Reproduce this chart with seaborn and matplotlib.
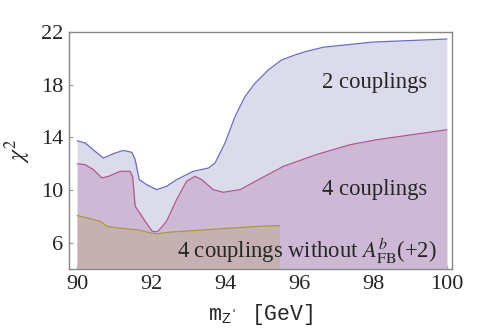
import matplotlib
matplotlib.use("Agg")
import matplotlib.pyplot as plt
import seaborn as sns
import numpy as np

# 2 couplings
x_two = [90.0, 90.22, 90.49, 90.71, 90.98, 91.25, 91.48, 91.57, 91.68, 91.88, 92.15, 92.42,
         92.69, 93.14, 93.55, 93.73, 94.0, 94.27, 94.54, 94.81, 95.17, 95.53, 95.89, 96.16,
         96.66, 98.0, 100.0]
y_two = [13.74, 13.57, 12.93, 12.43, 12.76, 13.01, 12.86, 12.30, 10.79, 10.41, 10.03, 10.28,
         10.79, 11.42, 11.67, 12.05, 13.57, 15.58, 17.1, 18.11, 19.12, 19.88, 20.26, 20.5,
         20.85, 21.24, 21.47]

# 4 couplings
x_four = [90.0, 90.22, 90.44, 90.67, 90.85, 91.16, 91.43, 91.5, 91.57, 91.66, 91.84, 92.02,
          92.11, 92.2, 92.42, 92.69, 92.96, 93.19, 93.37, 93.68, 93.95, 94.41, 94.95, 95.58,
          96.48, 97.38, 98.1, 100.0]
y_four = [12.0, 11.92, 11.55, 10.92, 11.04, 11.42, 11.42, 11.04, 8.77, 8.39, 7.63, 6.9,
          6.82, 6.9, 7.63, 9.27, 10.66, 11.04, 10.79, 10.03, 9.83, 10.03, 10.86, 11.8,
          12.7, 13.44, 13.82, 14.58]

# 4 couplings without A_FB^b
x_noafb = [90.0, 90.26, 90.62, 90.8, 91.16, 91.7, 91.97, 92.15, 92.51, 94.95, 95.47]
y_noafb = [8.06, 7.89, 7.63, 7.25, 7.1, 6.95, 6.75, 6.67, 6.8, 7.25, 7.3]

y_ticks = [6, 10, 14, 18, 22]
x_ticks = [90, 92, 94, 96, 98, 100]

sns.set_style("ticks")
plt.rcParams['font.family'] = ['Liberation Serif', 'DejaVu Serif']
plt.rcParams['mathtext.fontset'] = 'stix'

fig = plt.figure(figsize=(4.85, 3.34), dpi=100)
ax = fig.add_axes([0.1423, 0.1946, 0.7897, 0.7094])

ymin = 4.0
series = [
    (x_two, y_two, "#dcdbec", "#6b6bc0"),
    (x_four, y_four, "#cdb9d6", "#b0578c"),
    (x_noafb, y_noafb, "#c5b1b2", "#a99a3c"),
]
for xs, ys, fc, lc in series:
    ax.fill_between(xs, ys, ymin, color=fc, linewidth=0, zorder=1)
    sns.lineplot(x=xs, y=ys, ax=ax, color=lc, linewidth=0.9, sort=False,
                 estimator=None, zorder=2)

ax.set_xlim(89.78, 100.14)
ax.set_ylim(ymin, 22)
ax.set_xticks(x_ticks)
ax.set_yticks(y_ticks)
ax.tick_params(direction='in', length=3, width=0.8, color='#999999',
               labelsize=16, pad=4)
for s in ax.spines.values():
    s.set_color('#888888')
    s.set_linewidth(1.0)

ax.text(99.46, 18.14, "2 couplings", ha='right', va='center', fontsize=16.3)
ax.text(99.46, 10.03, "4 couplings", ha='right', va='center', fontsize=16.3)
ax.text(99.73, 5.33, r"4 couplings without $A^{b}_{\mathrm{FB}}$(+2)", ha='right',
        va='center', fontsize=16.3)

ax.set_xlabel(r"m$_{\mathregular{Z'}}$ [GeV]", fontsize=15.5, family='Liberation Mono',
              labelpad=6)
ax.set_ylabel(r"$\chi^2$", fontsize=17, labelpad=6)

fig.savefig("out.png", dpi=100)
